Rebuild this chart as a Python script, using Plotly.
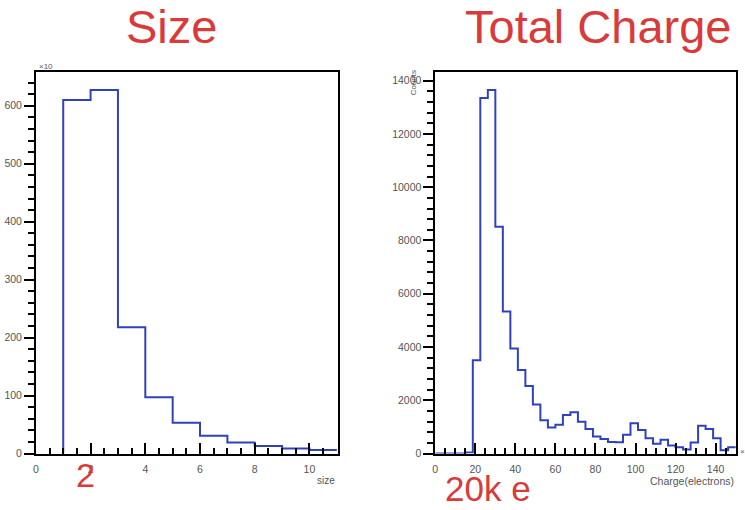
import plotly.graph_objects as go

# ---------------- data ----------------
size_edges = [1, 2, 3, 4, 5, 6, 7, 8, 9, 10, 11]
size_counts = [610, 627, 218, 97, 53, 31, 19, 13, 9, 6]   # in units of x10

charge_bin_width = 3.75
charge_counts = [0, 0, 0, 0, 40, 3500, 13350, 13650, 8520, 5330,
                 3950, 3140, 2540, 1840, 1250, 980, 1080, 1450, 1550, 1200,
                 920, 645, 545, 435, 430, 705, 1140, 890, 580, 370,
                 520, 300, 235, 150, 420, 1050, 925, 580, 125, 235]
charge_edges = [i * charge_bin_width for i in range(len(charge_counts) + 1)]

W, H = 745, 510
RED = "#d93a3a"
BLUE = "#2f42bd"
GRAY = "#555555"


def step_xy(edges, vals):
    xs = [edges[0]] + list(edges)
    ys = [0] + list(vals) + [vals[-1]]
    return xs, ys


fig = go.Figure()
sx, sy = step_xy(size_edges, size_counts)
fig.add_trace(go.Scatter(x=sx, y=sy, mode="lines", line=dict(shape="hv", color=BLUE, width=2),
                         xaxis="x", yaxis="y", showlegend=False, hoverinfo="skip"))
cx, cy = step_xy(charge_edges, charge_counts)
fig.add_trace(go.Scatter(x=cx, y=cy, mode="lines", line=dict(shape="hv", color=BLUE, width=2),
                         xaxis="x2", yaxis="y2", showlegend=False, hoverinfo="skip"))


def px(x):
    return x / W


def py(y):
    return 1 - y / H


tickfont = dict(family="Liberation Sans", size=10.5, color=GRAY)
axis_common = dict(showgrid=False, zeroline=False, showline=True, linecolor="black",
                   linewidth=1.6, mirror=True, tickcolor="black",
                   tickwidth=1.6, tickfont=tickfont, tickformat="d")

left_dom = [px(33), px(336)]
right_dom = [px(434), px(736)]
y_dom = [py(459), py(73)]

fig.update_layout(
    width=W, height=H, margin=dict(l=0, r=0, t=0, b=0),
    paper_bgcolor="white", plot_bgcolor="white",
    xaxis=dict(domain=left_dom, range=[0, 11.03], dtick=2, tick0=0, ticks="inside", ticklen=11,
               minor=dict(ticks="inside", dtick=0.5, ticklen=6, tickwidth=1.6, tickcolor="black"),
               ticklabelstandoff=5, anchor="y", **axis_common),
    yaxis=dict(domain=y_dom, range=[0, 658], dtick=100, tick0=0, ticks="outside", ticklen=10,
               minor=dict(ticks="outside", dtick=20, ticklen=6, tickwidth=1.6, tickcolor="black"),
               anchor="x", **axis_common),
    xaxis2=dict(domain=right_dom, range=[0, 150.2], dtick=20, tick0=0, ticks="inside", ticklen=11,
                minor=dict(ticks="inside", dtick=5, ticklen=6, tickwidth=1.6, tickcolor="black"),
                ticklabelstandoff=5, anchor="y2", **axis_common),
    yaxis2=dict(domain=y_dom, range=[0, 14320], dtick=2000, tick0=0, ticks="outside", ticklen=10,
                minor=dict(ticks="outside", dtick=400, ticklen=6, tickwidth=1.6, tickcolor="black"),
                anchor="x2", **axis_common),
)

ann = []
ann.append(dict(text="Size", x=px(169), y=py(27), xref="paper", yref="paper", showarrow=False,
                font=dict(family="Liberation Sans", size=47, color=RED), xanchor="center", yanchor="middle"))
ann.append(dict(text="Total Charge", x=px(598), y=py(27), xref="paper", yref="paper", showarrow=False,
                font=dict(family="Liberation Sans", size=47, color=RED), xanchor="center", yanchor="middle"))
ann.append(dict(text="2", x=px(83), y=py(481), xref="paper", yref="paper", showarrow=False,
                font=dict(family="Liberation Sans", size=34, color=RED), xanchor="center", yanchor="middle"))
ann.append(dict(text="20k e", x=px(487), y=py(494), xref="paper", yref="paper", showarrow=False,
                font=dict(family="Liberation Sans", size=35, color=RED), xanchor="center", yanchor="middle"))
ann.append(dict(text="size", x=px(335), y=py(486), xref="paper", yref="paper", showarrow=False,
                font=dict(family="Liberation Sans", size=10, color=GRAY), xanchor="right", yanchor="middle"))
ann.append(dict(text="Charge(electrons)", x=px(736), y=py(487), xref="paper", yref="paper", showarrow=False,
                font=dict(family="Liberation Sans", size=10.5, color=GRAY), xanchor="right", yanchor="middle"))
ann.append(dict(text="Counts", x=px(412), y=py(84), xref="paper", yref="paper", showarrow=False, textangle=-90,
                font=dict(family="Liberation Sans", size=8, color=GRAY), xanchor="center", yanchor="middle"))
ann.append(dict(text="×10", x=px(34), y=py(67), xref="paper", yref="paper", showarrow=False,
                font=dict(family="Liberation Sans", size=8, color=GRAY), xanchor="left", yanchor="middle"))
ann.append(dict(text="×", x=px(738), y=py(457), xref="paper", yref="paper", showarrow=False,
                font=dict(family="Liberation Sans", size=8, color=GRAY), xanchor="left", yanchor="middle"))
fig.update_layout(annotations=ann)

fig.write_html("out.html")
